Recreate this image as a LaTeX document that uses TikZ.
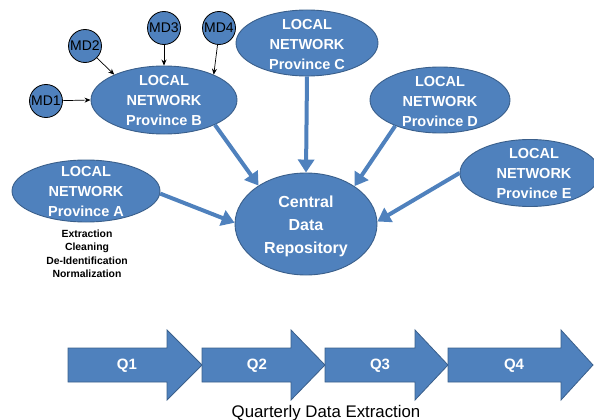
\documentclass[tikz,border=0pt]{standalone}
\usepackage{fontspec}
\setmainfont{Liberation Sans}
\usetikzlibrary{shapes.geometric,arrows.meta}
\definecolor{nblue}{HTML}{4F81BD}
\definecolor{nborder}{HTML}{3A5F8B}
\tikzset{
  oval/.style={ellipse,draw=nborder,line width=0.9pt,fill=nblue,inner sep=0pt},
  mdc/.style={circle,draw=black,line width=0.8pt,fill=nblue,inner sep=0pt,minimum size=33pt,font=\fontsize{14}{16}\selectfont},
  ovtext/.style={text=white,align=center,font=\bfseries\fontsize{14.5}{20}\selectfont},
  bigarrow/.style={draw=nblue,line width=4pt,-{Triangle[length=13pt,width=16pt]}},
  thinarrow/.style={draw=black,line width=0.7pt,-{Stealth[length=6pt,width=5pt]}},
  chev/.style={draw=nborder,line width=0.8pt,fill=nblue},
  qtext/.style={text=white,font=\bfseries\fontsize{15}{18}\selectfont},
}
\begin{document}
\begin{tikzpicture}[x=1pt,y=-1pt]
\useasboundingbox (0,0) rectangle (594,420);
% ellipses
\node[oval,minimum width=146pt,minimum height=68pt] (B) at (164,100) {};
\node[oval,minimum width=142pt,minimum height=66pt] (C) at (307,43) {};
\node[oval,minimum width=140pt,minimum height=66pt] (D) at (440,100) {};
\node[oval,minimum width=140pt,minimum height=67pt] (E) at (530,173) {};
\node[oval,minimum width=148pt,minimum height=62pt] (A) at (86,191) {};
\node[oval,minimum width=142pt,minimum height=102pt] (R) at (306,224) {};
% texts
\node[ovtext] (Bt) at (164,101) {LOCAL\\NETWORK\\Province B};
\node[ovtext] (Ct) at (307,45) {LOCAL\\NETWORK\\Province C};
\node[ovtext] (Dt) at (440,102) {LOCAL\\NETWORK\\Province D};
\node[ovtext] (Et) at (534,174) {LOCAL\\NETWORK\\Province E};
\node[ovtext] (At) at (86,192) {LOCAL\\NETWORK\\Province A};
\node[text=white,align=center,font=\bfseries\fontsize{16}{23}\selectfont] (Rt) at (306,226) {Central\\Data\\Repository};
\node[align=center,font=\bfseries\fontsize{10.4}{13.5}\selectfont] (steps) at (87,254) {Extraction\\Cleaning\\De-Identification\\Normalization};
% MD circles
\node[mdc] (MD1) at (46,101) {MD1};
\node[mdc] (MD2) at (85,46) {MD2};
\node[mdc] (MD3) at (164,28) {MD3};
\node[mdc] (MD4) at (219,28) {MD4};
% thin arrows
\draw[thinarrow] (MD1) -- (B.180);
\draw[thinarrow] (MD2.-45) -- (B.153);
\draw[thinarrow] (MD3) -- (B.north);
\draw[thinarrow] (MD4.-95) -- (B.27);
% big arrows
\draw[bigarrow] (B.-26) -- (R.141);
\draw[bigarrow] (C.south) -- (R.north);
\draw[bigarrow] (D.-150) -- (R.38);
\draw[bigarrow] (E.180) -- (R.2);
\draw[bigarrow] (A.-2) -- (R.179);
% chevrons
\draw[chev] (68,348) -- (167,348) -- (167,330) -- (202,365) -- (167,400) -- (167,382) -- (68,382) -- cycle;
\draw[chev] (202,348) -- (291,348) -- (291,330) -- (325,365) -- (291,400) -- (291,382) -- (202,382) -- cycle;
\draw[chev] (325,348) -- (415,348) -- (415,330) -- (448,365) -- (415,400) -- (415,382) -- (325,382) -- cycle;
\draw[chev] (448,348) -- (561,348) -- (561,330) -- (593,365) -- (561,400) -- (561,382) -- (448,382) -- cycle;
\node[qtext] (Q1) at (127,366) {Q1};
\node[qtext] (Q2) at (257,366) {Q2};
\node[qtext] (Q3) at (380,366) {Q3};
\node[qtext] (Q4) at (514,366) {Q4};
\node[anchor=base,font=\fontsize{16.8}{18}\selectfont] (cap) at (326,417) {Quarterly Data Extraction};
\end{tikzpicture}
\end{document}
